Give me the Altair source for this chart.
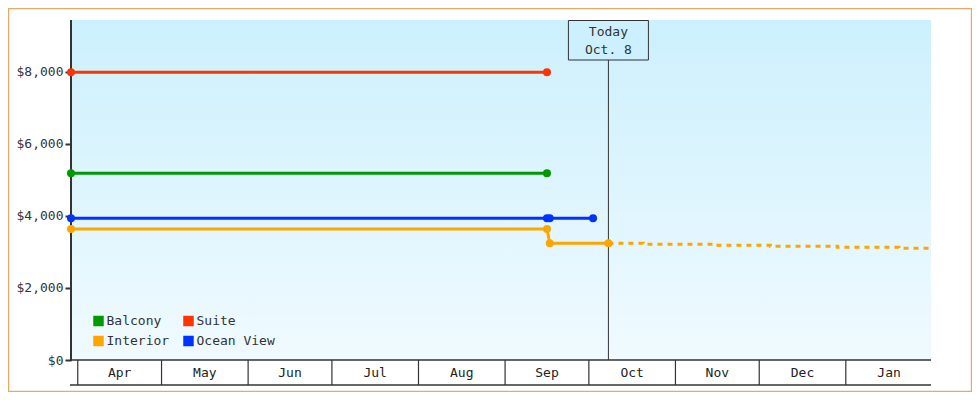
import altair as alt
import pandas as pd

# ---------------- data ----------------
series_names = ["Balcony", "Suite", "Interior", "Ocean View"]
series_colors = ["#009900", "#ff3300", "#ffa500", "#0033ff"]

domain_start = "2024-03-29T14:00:00"
domain_end = "2025-01-31T12:00:00"

suite_dates = ["2024-03-29T14:00:00", "2024-09-16T00:00:00"]
suite_prices = [7990, 7990]

balcony_dates = ["2024-03-29T14:00:00", "2024-09-16T00:00:00"]
balcony_prices = [5190, 5190]

ocean_dates = ["2024-03-29T14:00:00", "2024-09-16T00:00:00", "2024-09-17T00:00:00", "2024-10-02T12:00:00"]
ocean_prices = [3935, 3935, 3935, 3935]

interior_dates = ["2024-03-29T14:00:00", "2024-09-16T00:00:00", "2024-09-17T00:00:00", "2024-10-08T00:00:00"]
interior_prices = [3640, 3640, 3240, 3240]

forecast_dates = ["2024-10-08T00:00:00", "2024-10-20T12:00:00", "2024-11-15T00:00:00",
                  "2024-12-05T00:00:00", "2024-12-29T00:00:00", "2025-01-20T00:00:00",
                  "2025-01-31T12:00:00"]
forecast_prices = [3240, 3215, 3185, 3160, 3130, 3105, 3105]

today_date = "2024-10-08T00:00:00"
today_lines = ["Today", "Oct. 8"]

month_labels = ["Apr", "May", "Jun", "Jul", "Aug", "Sep", "Oct", "Nov", "Dec", "Jan"]
month_bounds = ["2024-04-01", "2024-05-01", "2024-06-01", "2024-07-01", "2024-08-01",
                "2024-09-01", "2024-10-01", "2024-11-01", "2024-12-01", "2025-01-01",
                "2025-02-01"]

y_ticks = [0, 2000, 4000, 6000, 8000]
y_max = 9444

# ---------------- tables ----------------
def frame(name, dates, prices):
    return pd.DataFrame({"series": name, "date": dates, "price": prices})

solid = pd.concat([
    frame("Suite", suite_dates, suite_prices),
    frame("Balcony", balcony_dates, balcony_prices),
    frame("Ocean View", ocean_dates, ocean_prices),
    frame("Interior", interior_dates, interior_prices),
], ignore_index=True)
forecast = frame("Interior", forecast_dates, forecast_prices)

b = pd.to_datetime(pd.Series(month_bounds))
months = pd.DataFrame({
    "label": month_labels,
    "start": [d.strftime("%Y-%m-%dT%H:%M:%S") for d in b[:-1]],
    "mid": [(b[i] + (b[i + 1] - b[i]) / 2).strftime("%Y-%m-%dT%H:%M:%S") for i in range(len(month_labels))],
})
today_df = pd.DataFrame({"date": [today_date]})

# ---------------- layout ----------------
W, H = 860, 340
FONT = "DejaVu Sans Mono"
INK = "#333333"

def dt(s):
    t = pd.Timestamp(s)
    return alt.DateTime(year=t.year, month=t.month, date=t.day, hours=t.hour, minutes=t.minute)

xscale = alt.Scale(domain=[dt(domain_start), dt(domain_end)], nice=False)
yscale = alt.Scale(domain=[0, y_max], nice=False)
cscale = alt.Scale(domain=series_names, range=series_colors)

X = alt.X("date:T", scale=xscale, axis=None)
Y = alt.Y("price:Q", scale=yscale, axis=alt.Axis(
    values=y_ticks, format="$,.0f", title=None, domain=False, grid=False,
    tickSize=6, tickWidth=2, tickColor=INK, labelFont=FONT, labelFontSize=13,
    labelColor=INK, labelPadding=2))
C = alt.Color("series:N", scale=cscale, legend=None)

one = pd.DataFrame({"k": [0]})

background = alt.Chart(one).mark_rect(
    fill=alt.Gradient(gradient="linear", x1=0, x2=0, y1=0, y2=1,
                      stops=[alt.GradientStop(offset=0, color="#ccf0fd"),
                             alt.GradientStop(offset=1, color="#f0faff")])
).encode(x=alt.value(0), x2=alt.value(W), y=alt.value(0), y2=alt.value(H))

border = alt.Chart(one).mark_rect(fill=None, stroke="#e6a96b", strokeWidth=1.2).encode(
    x=alt.value(-63 + 0.6), x2=alt.value(W + 41 - 0.6), y=alt.value(-12 + 0.6), y2=alt.value(H + 32 - 0.6))

y_domain_line = alt.Chart(one).mark_rule(color=INK, strokeWidth=2).encode(
    x=alt.value(0), y=alt.value(0), y2=alt.value(H + 1))

x_top_line = alt.Chart(one).mark_rule(color=INK, strokeWidth=1.5).encode(
    x=alt.value(-1), x2=alt.value(W), y=alt.value(H))
x_bottom_line = alt.Chart(one).mark_rule(color=INK, strokeWidth=1.5).encode(
    x=alt.value(-1), x2=alt.value(W), y=alt.value(H + 25))

month_seps = alt.Chart(months).mark_rule(color=INK, strokeWidth=1.2).encode(
    x=alt.X("start:T", scale=xscale, axis=None), y=alt.value(H), y2=alt.value(H + 25))
month_text = alt.Chart(months).mark_text(font=FONT, fontSize=13, color="#222222", baseline="middle").encode(
    x=alt.X("mid:T", scale=xscale, axis=None), y=alt.value(H + 13), text="label:N")

today_rule = alt.Chart(today_df).mark_rule(color=INK, strokeWidth=1).encode(
    x=alt.X("date:T", scale=xscale, axis=None), y=alt.value(40), y2=alt.value(H))
today_box = alt.Chart(today_df).mark_rect(fill="#ccf0fd", stroke=INK, strokeWidth=1,
                                          xOffset=-40, x2Offset=40).encode(
    x=alt.X("date:T", scale=xscale, axis=None), x2="date:T",
    y=alt.value(0.5), y2=alt.value(40))
today_text = [
    alt.Chart(today_df).mark_text(text=t, font=FONT, fontSize=13, color=INK, baseline="middle").encode(
        x=alt.X("date:T", scale=xscale, axis=None), y=alt.value(12 + 18 * i))
    for i, t in enumerate(today_lines)
]

lines = alt.Chart(solid).mark_line(strokeWidth=3).encode(x=X, y=Y, color=C, detail="series:N")
dashed = alt.Chart(forecast).mark_line(strokeWidth=3, strokeDash=[5, 5], interpolate="step-after").encode(
    x=X, y=Y, color=C)
points = alt.Chart(solid).mark_circle(size=64, opacity=1).encode(x=X, y=Y, color=C)

legend_layers = []
for i, (name, col) in enumerate(zip(series_names, series_colors)):
    cx = 27.5 + 90 * (i % 2)
    cy = 301 + 20 * (i // 2)
    legend_layers.append(alt.Chart(one).mark_square(size=110, color=col, opacity=1).encode(
        x=alt.value(cx), y=alt.value(cy)))
    legend_layers.append(alt.Chart(one).mark_text(text=name, font=FONT, fontSize=13, color=INK,
                                                 align="left", baseline="middle").encode(
        x=alt.value(cx + 8), y=alt.value(cy)))

chart = alt.layer(
    background, border, y_domain_line, x_top_line, x_bottom_line, month_seps, month_text,
    today_rule, today_box, *today_text, lines, dashed, points, *legend_layers
).properties(
    width=W, height=H,
    padding={"left": 63, "top": 12, "right": 41, "bottom": 32},
    autosize=alt.AutoSizeParams(type="none"),
    background="white",
).configure_view(stroke=None)

chart.save("out.html", embed_options={"renderer": "svg", "actions": False})
